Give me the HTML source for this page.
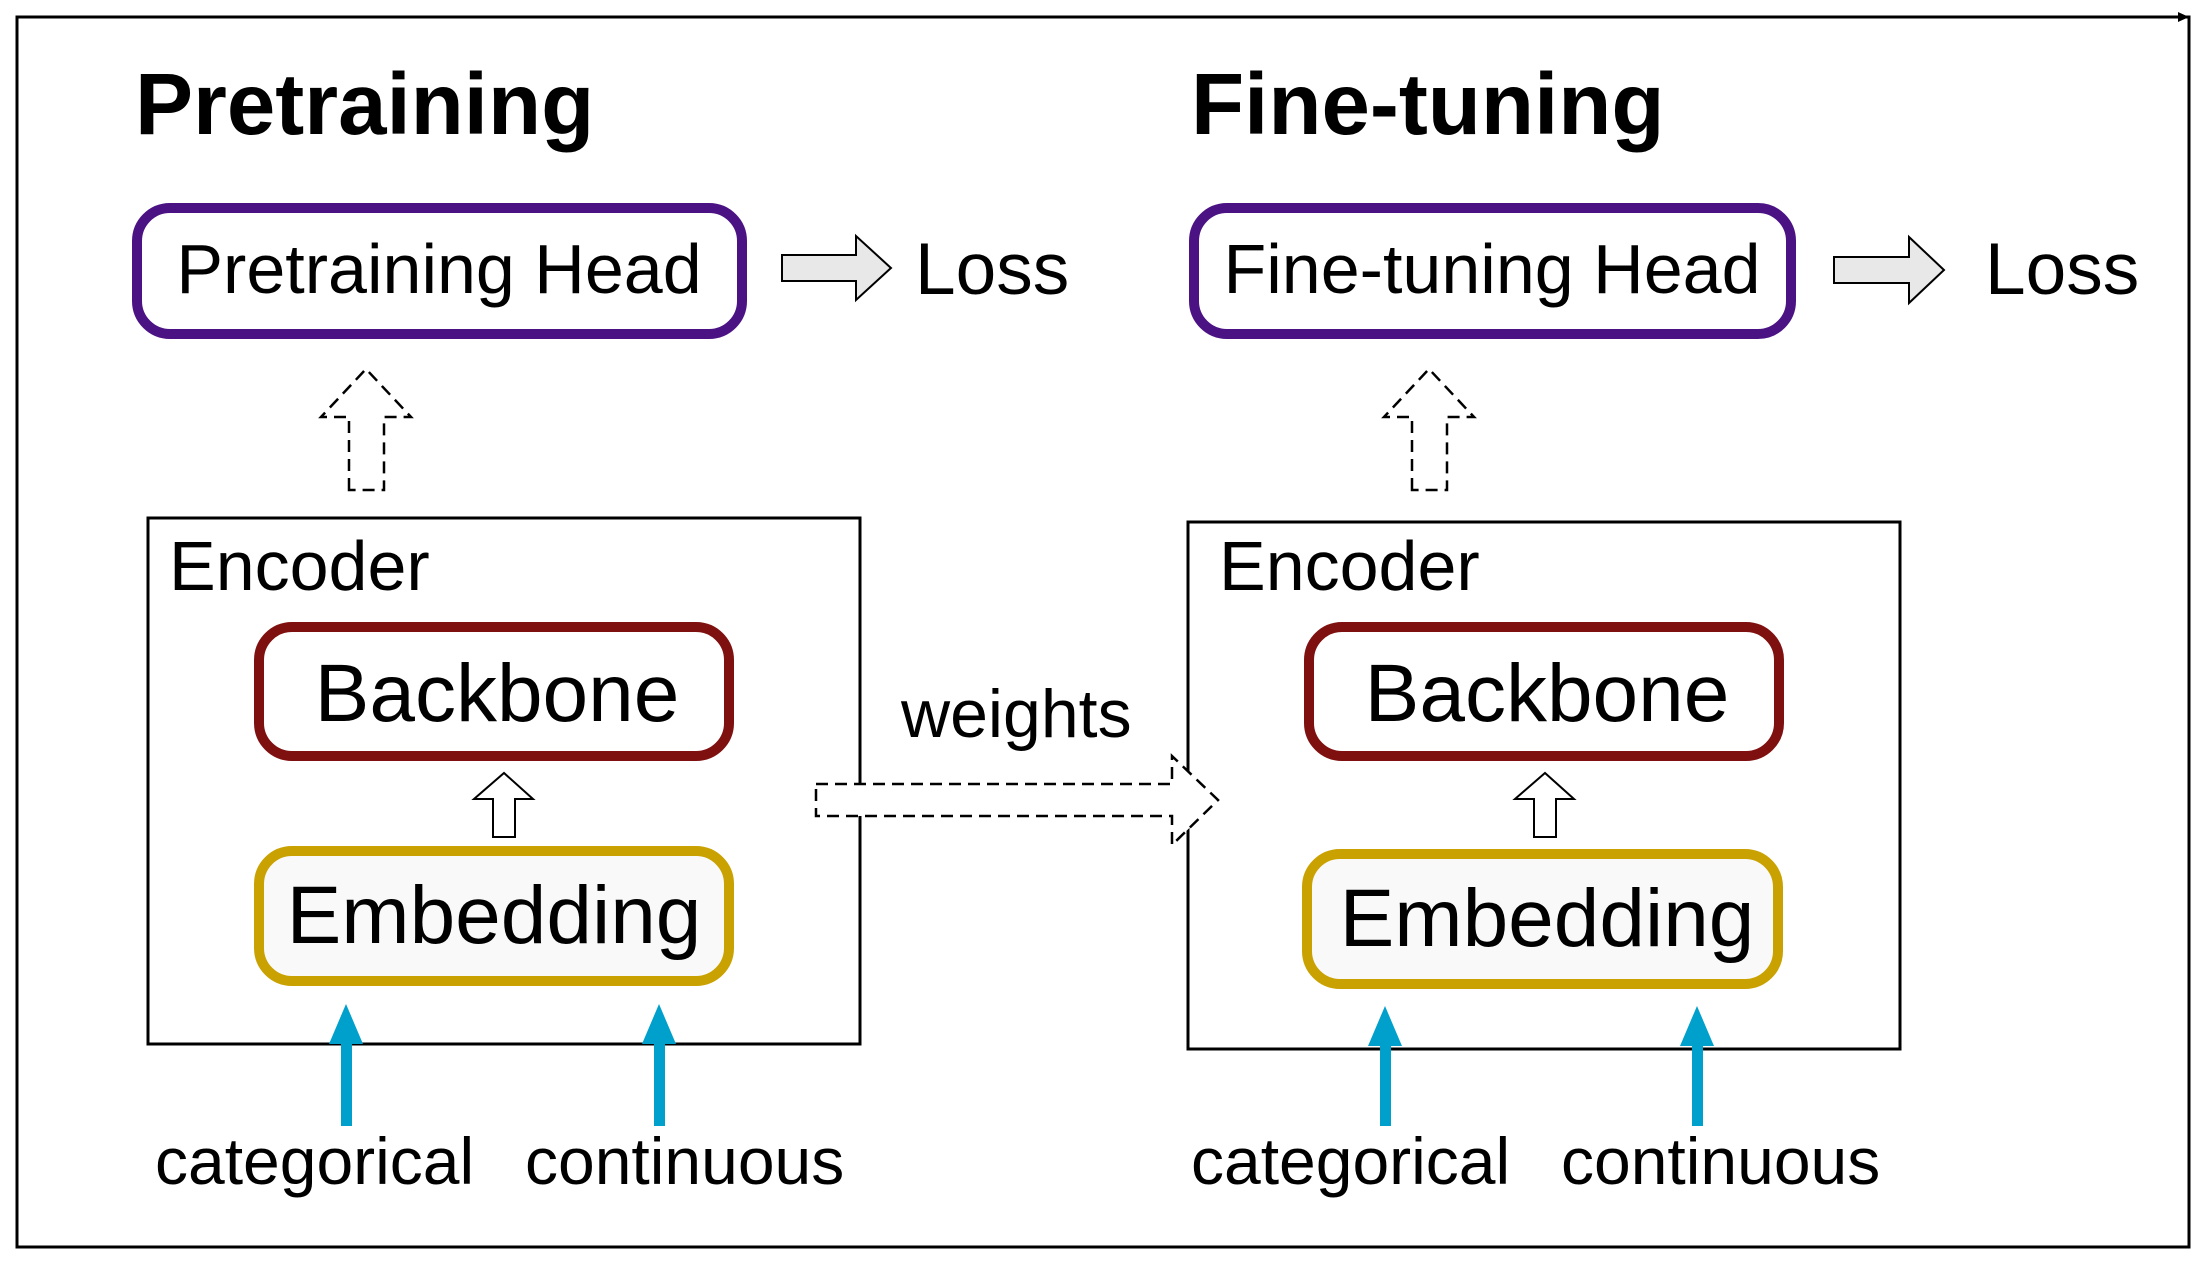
<!DOCTYPE html>
<html><head><meta charset="utf-8"><style>
html,body{margin:0;padding:0;background:#fff;}
svg{display:block;font-family:"Liberation Sans","DejaVu Sans",sans-serif;}
</style></head><body>
<svg width="2207" height="1266" viewBox="0 0 2207 1266" xmlns="http://www.w3.org/2000/svg">
<rect x="0" y="0" width="2207" height="1266" fill="#fff"/>
<!-- outer frame -->
<rect x="17" y="17" width="2172" height="1230" fill="none" stroke="#000" stroke-width="3"/>
<path d="M2178 12 L2189 17 L2178 22 Z" fill="#000"/>

<!-- titles -->
<text x="135" y="134" font-size="87" font-weight="bold">Pretraining</text>
<text x="1191" y="134" font-size="87" font-weight="bold">Fine-tuning</text>

<!-- head boxes -->
<rect x="137" y="208" width="605" height="126" rx="33" fill="#fff" stroke="#4b1284" stroke-width="10"/>
<text x="439" y="293" font-size="70" text-anchor="middle">Pretraining Head</text>
<rect x="1194" y="208" width="597" height="126" rx="33" fill="#fff" stroke="#4b1284" stroke-width="10"/>
<text x="1492" y="293" font-size="70" text-anchor="middle">Fine-tuning Head</text>

<!-- loss arrows -->
<path d="M782 255 H856 V236 L891 268 L856 300 V281 H782 Z" fill="#e8e8e8" stroke="#000" stroke-width="2"/>
<text x="915" y="294" font-size="73">Loss</text>
<path d="M1834 257 H1909 V237 L1944 270 L1909 303 V283 H1834 Z" fill="#e8e8e8" stroke="#000" stroke-width="2"/>
<text x="1985" y="294" font-size="73">Loss</text>

<!-- dashed up arrows -->
<path d="M349 490 V417 H321 L366 369 L411 417 H384 V490 Z" fill="#fff" stroke="#000" stroke-width="2.5" stroke-dasharray="12,7"/>
<path d="M1412 490 V417 H1384 L1429 369 L1474 417 H1447 V490 Z" fill="#fff" stroke="#000" stroke-width="2.5" stroke-dasharray="12,7"/>

<!-- encoder boxes -->
<rect x="148" y="518" width="712" height="526" fill="none" stroke="#000" stroke-width="3"/>
<text x="169" y="590" font-size="70">Encoder</text>
<rect x="1188" y="522" width="712" height="527" fill="none" stroke="#000" stroke-width="3"/>
<text x="1219" y="590" font-size="70">Encoder</text>

<!-- weights arrow -->
<path d="M816 784 H1172 V756 L1218 800 L1172 845 V816 H816 Z" fill="#fff" stroke="#000" stroke-width="2.5" stroke-dasharray="12,7"/>
<text x="901" y="737" font-size="68">weights</text>

<!-- backbone / embedding left -->
<rect x="259" y="627" width="470" height="129" rx="33" fill="#fff" stroke="#7f1010" stroke-width="10"/>
<text x="497" y="721" font-size="82" text-anchor="middle">Backbone</text>
<path d="M493 837 V799 H474 L504 773 L533 799 H515 V837 Z" fill="#fff" stroke="#000" stroke-width="2"/>
<rect x="259" y="851" width="470" height="130" rx="33" fill="#f9f9f9" stroke="#c9a100" stroke-width="10"/>
<text x="494" y="943" font-size="82" text-anchor="middle">Embedding</text>

<!-- backbone / embedding right -->
<rect x="1309" y="627" width="470" height="129" rx="33" fill="#fff" stroke="#7f1010" stroke-width="10"/>
<text x="1547" y="721" font-size="82" text-anchor="middle">Backbone</text>
<path d="M1534 837 V799 H1515 L1545 773 L1574 799 H1556 V837 Z" fill="#fff" stroke="#000" stroke-width="2"/>
<rect x="1307" y="854" width="471" height="130" rx="33" fill="#f9f9f9" stroke="#c9a100" stroke-width="10"/>
<text x="1547" y="946" font-size="82" text-anchor="middle">Embedding</text>

<!-- blue arrows -->
<g fill="#00a0cc">
<rect x="341" y="1036" width="11" height="90"/><path d="M329 1044 L346 1004 L363 1044 Z"/>
<rect x="654" y="1036" width="11" height="90"/><path d="M642 1044 L659 1004 L676 1044 Z"/>
<rect x="1380" y="1038" width="11" height="88"/><path d="M1368 1046 L1385 1006 L1402 1046 Z"/>
<rect x="1692" y="1038" width="11" height="88"/><path d="M1680 1046 L1697 1006 L1714 1046 Z"/>
</g>

<!-- input labels -->
<text x="155" y="1184" font-size="66">categorical</text>
<text x="525" y="1184" font-size="66">continuous</text>
<text x="1191" y="1184" font-size="66">categorical</text>
<text x="1561" y="1184" font-size="66">continuous</text>
</svg>
</body></html>
